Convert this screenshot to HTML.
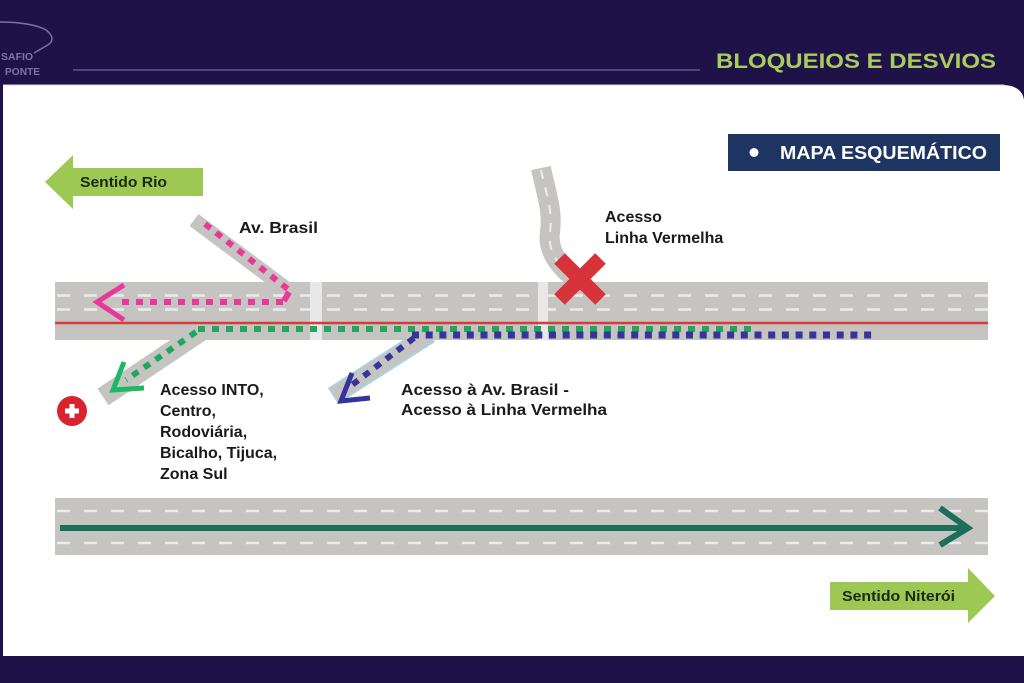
<!DOCTYPE html>
<html>
<head>
<meta charset="utf-8">
<style>
  html,body{margin:0;padding:0;background:#1f1249;}
  body{width:1024px;height:683px;overflow:hidden;}
  svg{display:block;}
  text{font-family:"Liberation Sans",Arial,sans-serif;font-weight:bold;}
</style>
</head>
<body>
<svg width="1024" height="683" viewBox="0 0 1024 683" xmlns="http://www.w3.org/2000/svg">
  <rect width="1024" height="683" fill="#1f1249"/>

  <!-- logo -->
  <path d="M0,22 C20,22 38,25 46,30 C54,36 54,42 46,46 L34,53" fill="none" stroke="#7a72aa" stroke-width="1.5"/>
  <text x="1" y="60" font-size="10.5" fill="#7a73a8">SAFIO</text>
  <text x="5" y="75" font-size="10.2" fill="#7a73a8">PONTE</text>

  <!-- header line & title -->
  <line x1="73" y1="70" x2="700" y2="70" stroke="#4d4482" stroke-width="2"/>
  <text x="716" y="68" font-size="21" fill="#a9cd5c" textLength="280" lengthAdjust="spacingAndGlyphs">BLOQUEIOS E DESVIOS</text>

  <!-- white panel -->
  <path d="M3,85 H1004 Q1022,86 1024,100 V656 H3 Z" fill="#ffffff"/>
  <line x1="3" y1="85" x2="1004" y2="85" stroke="#d8d8de" stroke-width="1"/>

  <!-- MAPA ESQUEMATICO box -->
  <rect x="728" y="134" width="272" height="37" fill="#1e3461"/>
  <circle cx="754" cy="152.5" r="4.5" fill="#ffffff"/>
  <text x="780" y="159" font-size="18" fill="#ffffff" textLength="207" lengthAdjust="spacingAndGlyphs">MAPA ESQUEMÁTICO</text>

  <!-- Sentido Rio arrow -->
  <polygon points="45,182 73,155 73,168 203,168 203,196 73,196 73,209" fill="#9dc853"/>
  <text x="80" y="187" font-size="15" fill="#1b2a0e" textLength="87" lengthAdjust="spacingAndGlyphs">Sentido Rio</text>

  <!-- Sentido Niteroi arrow -->
  <polygon points="830,582 968,582 968,568 995,596 968,623 968,610 830,610" fill="#9dc853"/>
  <text x="842" y="601" font-size="15" fill="#1b2a0e" textLength="113" lengthAdjust="spacingAndGlyphs">Sentido Niterói</text>

  <!-- ramps (drawn beneath road) -->
  <line x1="194" y1="220" x2="300" y2="299" stroke="#c6c4c1" stroke-width="15"/>
  <line x1="200" y1="332" x2="103" y2="397" stroke="#c6c4c1" stroke-width="20"/>
  <line x1="430" y1="334" x2="333" y2="396" stroke="#a9d3e6" stroke-width="19"/>
  <line x1="430" y1="334" x2="334" y2="395.3" stroke="#c6c4c1" stroke-width="15"/>

  <!-- curvy Linha Vermelha road -->
  <path d="M541,168 C546,193 553,210 550,232 C547,252 560,268 582,284" fill="none" stroke="#c6c4c1" stroke-width="20"/>
  <path d="M541,170 C546,193 553,210 550,232 C547,252 560,268 575,279" fill="none" stroke="#eeeeee" stroke-width="2" stroke-dasharray="9 9"/>

  <!-- main road 1 -->
  <rect x="55" y="282" width="933" height="58" fill="#c6c4c1"/>
  <line x1="57" y1="295.5" x2="988" y2="295.5" stroke="#ebebeb" stroke-width="2.5" stroke-dasharray="13 14"/>
  <line x1="57" y1="309.5" x2="988" y2="309.5" stroke="#ebebeb" stroke-width="2.5" stroke-dasharray="13 14"/>
  <rect x="310" y="282" width="12" height="58" fill="#e8e8ea"/>
  <rect x="538" y="282" width="10" height="58" fill="#e8e8ea"/>
  <line x1="55" y1="323" x2="988" y2="323" stroke="#d63b3b" stroke-width="2.5"/>

  <!-- road 2 -->
  <rect x="55" y="498" width="933" height="57" fill="#c6c4c1"/>
  <line x1="57" y1="511" x2="988" y2="511" stroke="#ebebeb" stroke-width="2.5" stroke-dasharray="13 14"/>
  <line x1="57" y1="543" x2="988" y2="543" stroke="#ebebeb" stroke-width="2.5" stroke-dasharray="13 14"/>
  <line x1="60" y1="528" x2="966" y2="528" stroke="#1a6e5a" stroke-width="6"/>
  <polyline points="940,508 968,528 940,545" fill="none" stroke="#1a6e5a" stroke-width="6"/>

  <!-- pink route -->
  <line x1="205" y1="224" x2="289" y2="290" stroke="#e8399a" stroke-width="6" stroke-dasharray="7 7"/>
  <line x1="289" y1="292" x2="284" y2="301" stroke="#e8399a" stroke-width="6"/>
  <line x1="283" y1="302" x2="116" y2="302" stroke="#e8399a" stroke-width="6" stroke-dasharray="7 7"/>
  <polyline points="124,285 97,302 124,320" fill="none" stroke="#e8399a" stroke-width="5"/>

  <!-- green route -->
  <line x1="198" y1="329" x2="752" y2="329" stroke="#1fa85a" stroke-width="6" stroke-dasharray="7 7"/>
  <line x1="196" y1="332" x2="126" y2="380" stroke="#1fa85a" stroke-width="6" stroke-dasharray="7 7"/>
  <polyline points="124,362 113,390 144,388" fill="none" stroke="#1db865" stroke-width="5"/>

  <!-- blue route -->
  <line x1="412" y1="335" x2="872" y2="335" stroke="#34349a" stroke-width="7" stroke-dasharray="7 6.7"/>
  <line x1="414" y1="338" x2="352" y2="385" stroke="#34349a" stroke-width="6" stroke-dasharray="7 7"/>
  <polyline points="352,373 341,401 370,398" fill="none" stroke="#34349a" stroke-width="5"/>

  <!-- red X -->
  <g transform="translate(580,279) rotate(45)">
    <rect x="-29" y="-7.5" width="58" height="15" fill="#d7333a"/>
    <rect x="-7.5" y="-29" width="15" height="58" fill="#d7333a"/>
  </g>

  <!-- hospital icon -->
  <circle cx="72" cy="411" r="15" fill="#d9232e"/>
  <rect x="65" y="408.5" width="14" height="5" fill="#ffffff"/>
  <rect x="69.5" y="404" width="5" height="14" fill="#ffffff"/>

  <!-- labels -->
  <text x="239" y="233" font-size="16" fill="#1a1a1a" textLength="79" lengthAdjust="spacingAndGlyphs">Av. Brasil</text>
  <text x="605" y="222" font-size="16" fill="#1a1a1a">Acesso</text>
  <text x="605" y="243" font-size="16" fill="#1a1a1a">Linha Vermelha</text>

  <text font-size="16" fill="#1a1a1a">
    <tspan x="160" y="395">Acesso INTO,</tspan>
    <tspan x="160" y="416">Centro,</tspan>
    <tspan x="160" y="437">Rodoviária,</tspan>
    <tspan x="160" y="458">Bicalho, Tijuca,</tspan>
    <tspan x="160" y="479">Zona Sul</tspan>
  </text>

  <text x="401" y="395" font-size="16" fill="#1a1a1a" textLength="168" lengthAdjust="spacingAndGlyphs">Acesso à Av. Brasil -</text>
  <text x="401" y="415" font-size="16" fill="#1a1a1a" textLength="206" lengthAdjust="spacingAndGlyphs">Acesso à Linha Vermelha</text>
</svg>
</body>
</html>
